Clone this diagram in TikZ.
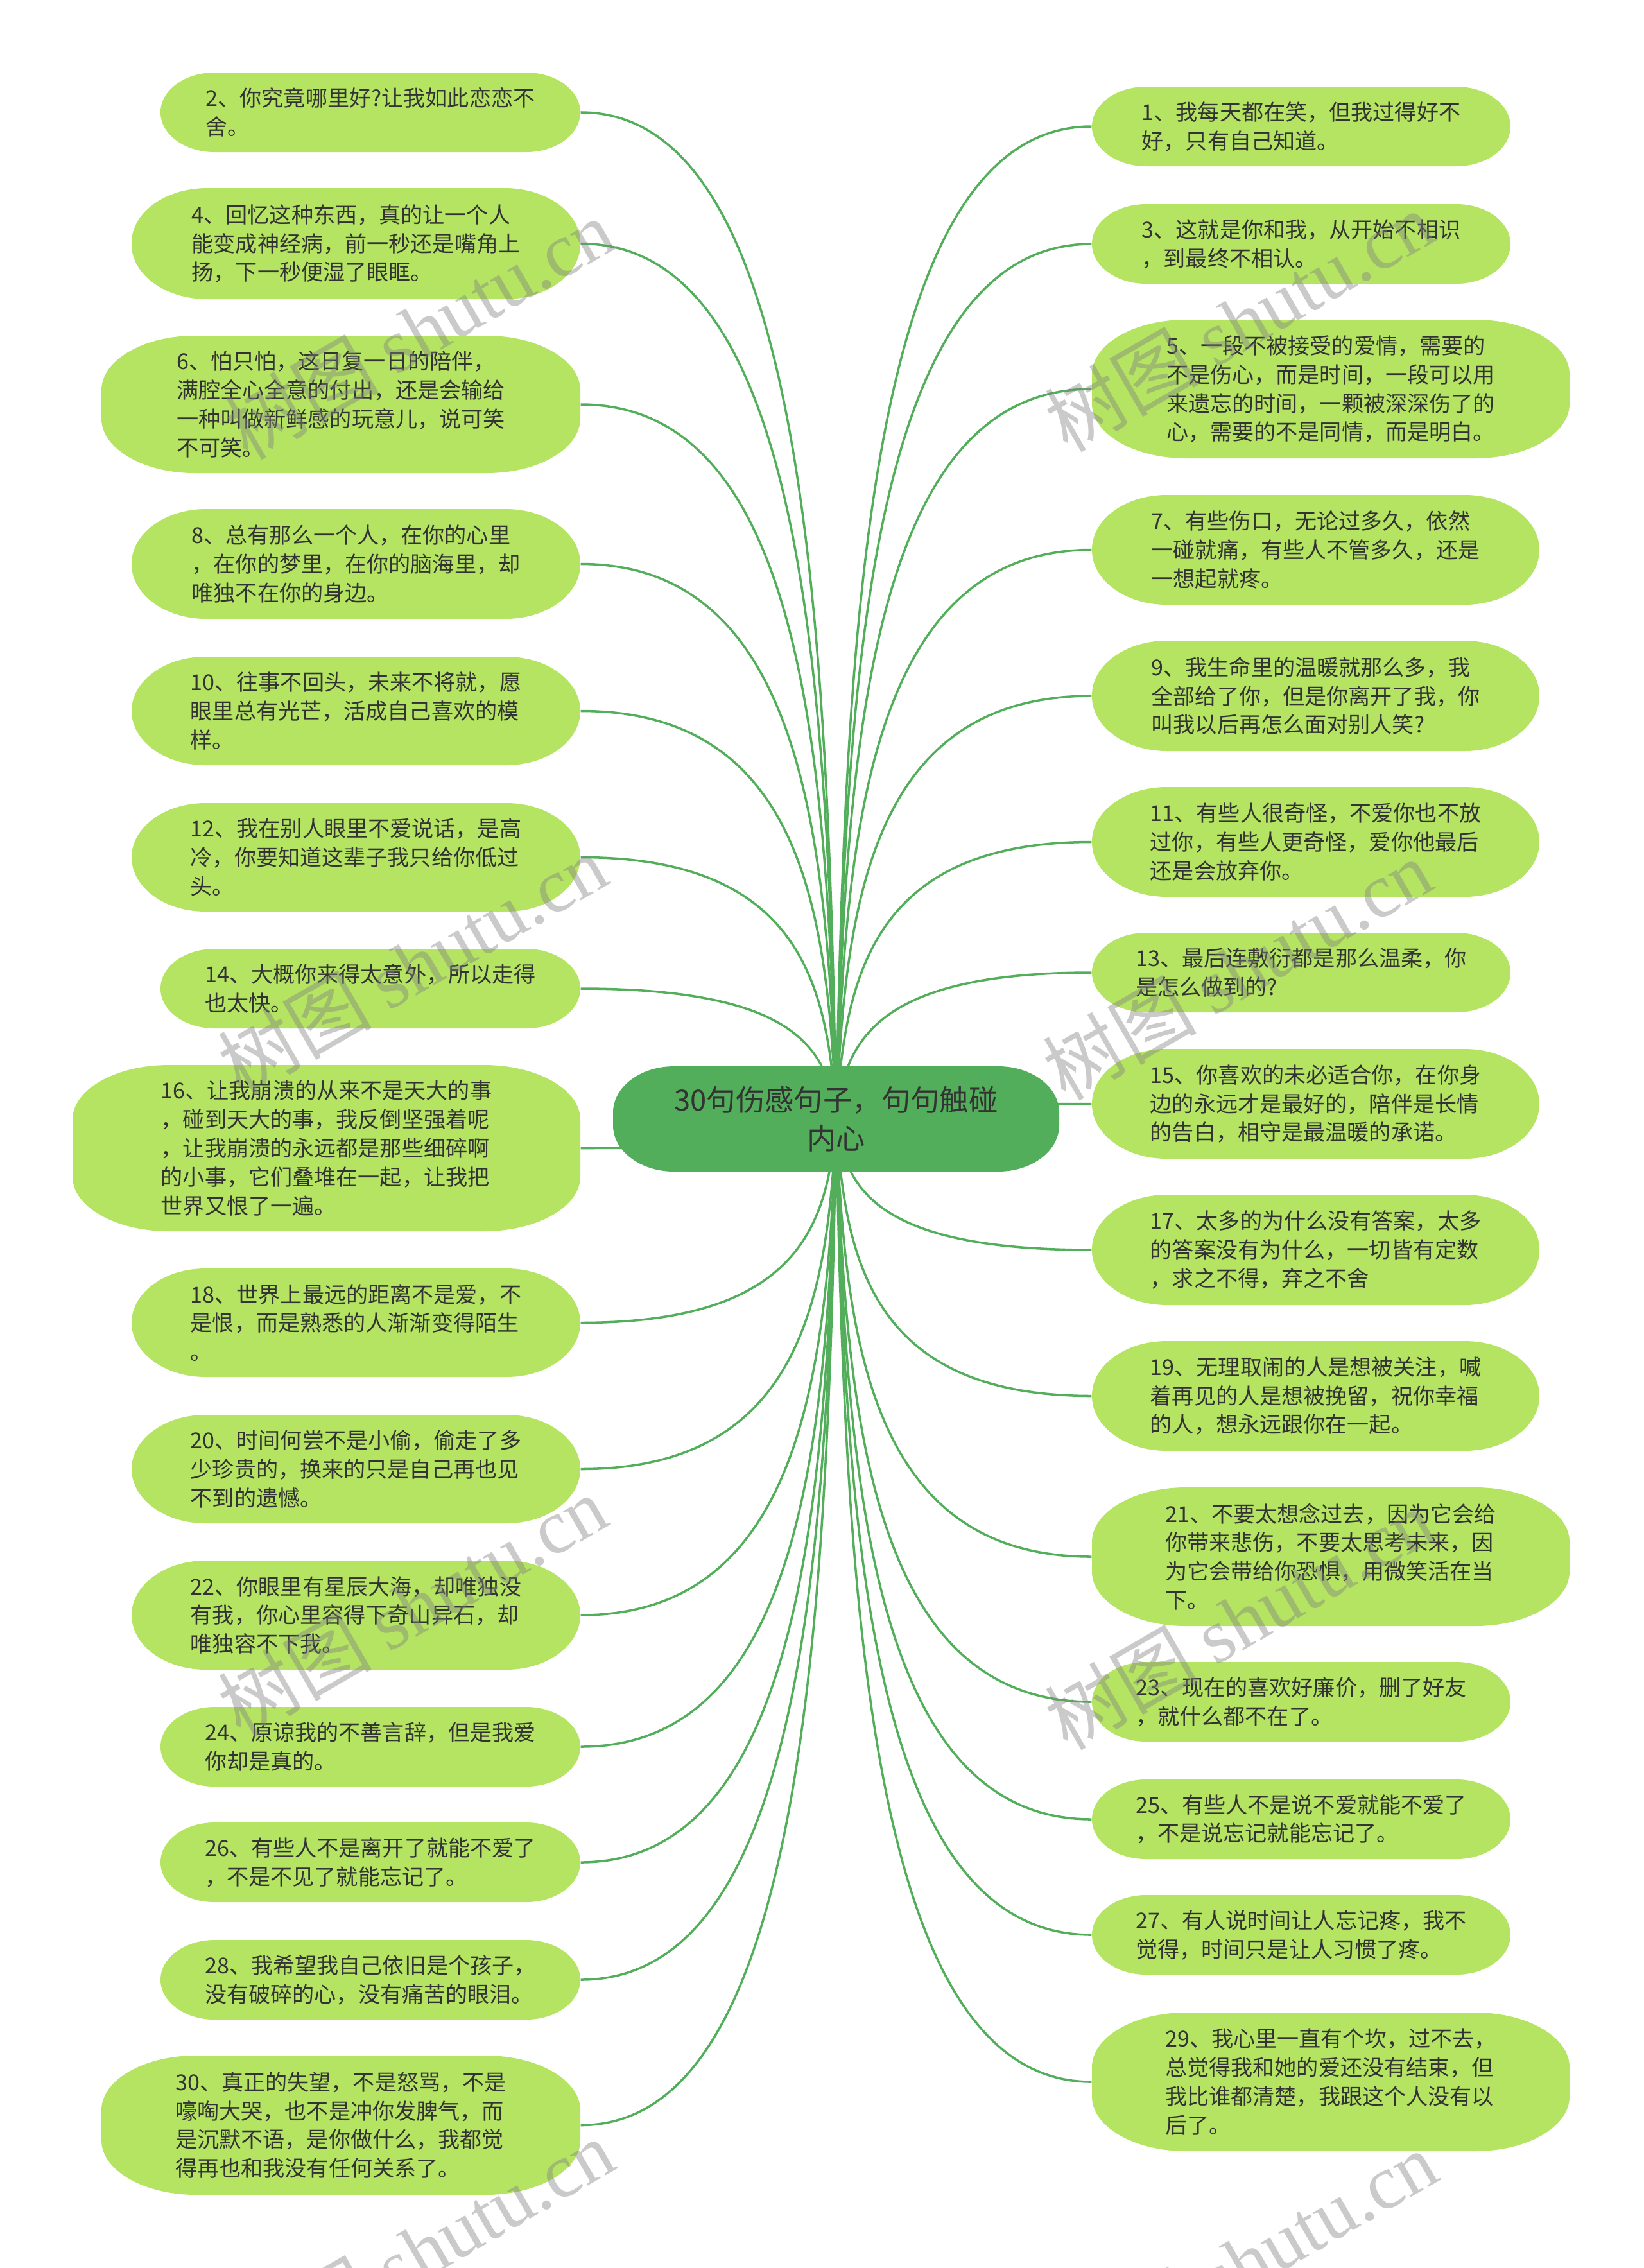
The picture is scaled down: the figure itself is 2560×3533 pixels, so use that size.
\documentclass[tikz,border=0pt]{standalone}
\usepackage{fontspec}
\setmainfont{Noto Sans CJK SC}
\newfontfamily\wmlatin{Liberation Serif}
\newfontfamily\wmcjk{Noto Sans CJK SC}
\usetikzlibrary{backgrounds}
\definecolor{leaffill}{HTML}{B5E462}
\definecolor{rootfill}{HTML}{53AE5B}
\definecolor{linecol}{HTML}{52AE5A}
\definecolor{txt}{HTML}{333333}
\tikzset{
  leaftext/.style={inner sep=0pt, align=left, text=txt, font=\fontsize{9.7pt}{12.75pt}\selectfont},
  roottext/.style={inner sep=0pt, align=center, text=txt, font=\fontsize{12.9pt}{17pt}\selectfont},
  conn/.style={draw=linecol, line width=1pt},
  wm/.style={text=gray, opacity=0.42, font=\fontsize{34pt}{38pt}\selectfont, rotate=30, inner sep=0pt},
}
% rounded box with elliptical corners: L R T B rx ry colour
\newcommand\rbox[7]{%
  \pgfmathsetmacro\ax{0.4477*#5}\pgfmathsetmacro\ay{0.4477*#6}%
  \fill[#7] ({#1+#5},#3) -- ({#2-#5},#3) .. controls ({#2-\ax},#3) and (#2,{#3+\ay}) .. (#2,{#3+#6})
    -- (#2,{#4-#6}) .. controls (#2,{#4-\ay}) and ({#2-\ax},#4) .. ({#2-#5},#4)
    -- ({#1+#5},#4) .. controls ({#1+\ax},#4) and (#1,{#4-\ay}) .. (#1,{#4-#6})
    -- (#1,{#3+#6}) .. controls (#1,{#3+\ay}) and ({#1+\ax},#3) .. ({#1+#5},#3) -- cycle;
}
\newcommand\leafbox[6]{%
  \pgfmathsetmacro\lh{#5-#4}\pgfmathsetmacro\lw{#3-#2}%
  \pgfmathsetmacro\rx{min(0.68*\lh,150)}\pgfmathsetmacro\ry{min(\lh/2,85)}%
  \rbox{#2}{#3}{#4}{#5}{\rx}{\ry}{leaffill}%
  \node[leaftext, minimum width=\lw*0.01cm, minimum height=\lh*0.01cm] (#1) at ({(#2+#3)/2},{(#4+#5)/2}) {#6};
  \pgfmathsetmacro\ey{(#4+#5)/2}\pgfmathsetmacro\my{(1743+\ey)/2}%
}
% left leaf: name L T B text  (R = 904)
\newcommand\leafL[5]{%
  \leafbox{#1}{#2}{904}{#3}{#4}{#5}%
  \begin{pgfonlayer}{background}
    \draw[conn] (c.center) .. controls (1290,\my) and (1251,\ey) .. (#1.east);
  \end{pgfonlayer}
}
% right leaf: name R T B text  (L = 1701)
\newcommand\leafR[5]{%
  \leafbox{#1}{1701}{#2}{#3}{#4}{#5}%
  \begin{pgfonlayer}{background}
    \draw[conn] (c.center) .. controls (1316,\my) and (1354.5,\ey) .. (#1.west);
  \end{pgfonlayer}
}
\begin{document}
\begin{tikzpicture}[x=0.01cm, y=-0.01cm]
\useasboundingbox (0,0) rectangle (2560,3533);
% root
\rbox{955}{1650}{1661}{1825}{95}{72}{rootfill}
\node[roottext, minimum width=6.95cm, minimum height=1.64cm] (c) at (1302.5,1743) {30句伤感句子，句句触碰\\内心};
% left side
\leafL{n2}{250}{113}{237}{2、你究竟哪里好?让我如此恋恋不\\舍。}
\leafL{n4}{205}{293}{466}{4、回忆这种东西，真的让一个人\\能变成神经病，前一秒还是嘴角上\\扬，下一秒便湿了眼眶。}
\leafL{n6}{158}{523}{737}{6、怕只怕，这日复一日的陪伴，\\满腔全心全意的付出，还是会输给\\一种叫做新鲜感的玩意儿，说可笑\\不可笑。}
\leafL{n8}{205}{793}{964}{8、总有那么一个人，在你的心里\\，在你的梦里，在你的脑海里，却\\唯独不在你的身边。}
\leafL{n10}{205}{1023}{1192}{10、往事不回头，未来不将就，愿\\眼里总有光芒，活成自己喜欢的模\\样。}
\leafL{n12}{205}{1251}{1420}{12、我在别人眼里不爱说话，是高\\冷，你要知道这辈子我只给你低过\\头。}
\leafL{n14}{250}{1478}{1602}{14、大概你来得太意外，所以走得\\也太快。}
\leafL{n16}{113}{1659}{1918}{16、让我崩溃的从来不是天大的事\\，碰到天大的事，我反倒坚强着呢\\，让我崩溃的永远都是那些细碎啊\\的小事，它们叠堆在一起，让我把\\世界又恨了一遍。}
\leafL{n18}{205}{1976}{2145}{18、世界上最远的距离不是爱，不\\是恨，而是熟悉的人渐渐变得陌生\\。}
\leafL{n20}{205}{2204}{2373}{20、时间何尝不是小偷，偷走了多\\少珍贵的，换来的只是自己再也见\\不到的遗憾。}
\leafL{n22}{205}{2431}{2601}{22、你眼里有星辰大海，却唯独没\\有我，你心里容得下奇山异石，却\\唯独容不下我。}
\leafL{n24}{250}{2659}{2783}{24、原谅我的不善言辞，但是我爱\\你却是真的。}
\leafL{n26}{250}{2839}{2963}{26、有些人不是离开了就能不爱了\\，不是不见了就能忘记了。}
\leafL{n28}{250}{3022}{3146}{28、我希望我自己依旧是个孩子，\\没有破碎的心，没有痛苦的眼泪。}
\leafL{n30}{158}{3202}{3419}{30、真正的失望，不是怒骂，不是\\嚎啕大哭，也不是冲你发脾气，而\\是沉默不语，是你做什么，我都觉\\得再也和我没有任何关系了。}
% right side
\leafR{n1}{2353}{135}{259}{1、我每天都在笑，但我过得好不\\好，只有自己知道。}
\leafR{n3}{2353}{318}{442}{3、这就是你和我，从开始不相识\\，到最终不相认。}
\leafR{n5}{2445}{498}{714}{5、一段不被接受的爱情，需要的\\不是伤心，而是时间，一段可以用\\来遗忘的时间，一颗被深深伤了的\\心，需要的不是同情，而是明白。}
\leafR{n7}{2398}{771}{942}{7、有些伤口，无论过多久，依然\\一碰就痛，有些人不管多久，还是\\一想起就疼。}
\leafR{n9}{2398}{998}{1170}{9、我生命里的温暖就那么多，我\\全部给了你，但是你离开了我，你\\叫我以后再怎么面对别人笑?}
\leafR{n11}{2398}{1226}{1397}{11、有些人很奇怪，不爱你也不放\\过你，有些人更奇怪，爱你他最后\\还是会放弃你。}
\leafR{n13}{2353}{1453}{1577}{13、最后连敷衍都是那么温柔，你\\是怎么做到的?}
\leafR{n15}{2398}{1634}{1805}{15、你喜欢的未必适合你，在你身\\边的永远才是最好的，陪伴是长情\\的告白，相守是最温暖的承诺。}
\leafR{n17}{2398}{1861}{2033}{17、太多的为什么没有答案，太多\\的答案没有为什么，一切皆有定数\\，求之不得，弃之不舍}
\leafR{n19}{2398}{2089}{2260}{19、无理取闹的人是想被关注，喊\\着再见的人是想被挽留，祝你幸福\\的人，想永远跟你在一起。}
\leafR{n21}{2445}{2317}{2533}{21、不要太想念过去，因为它会给\\你带来悲伤，不要太思考未来，因\\为它会带给你恐惧，用微笑活在当\\下。}
\leafR{n23}{2353}{2589}{2713}{23、现在的喜欢好廉价，删了好友\\，就什么都不在了。}
\leafR{n25}{2353}{2772}{2896}{25、有些人不是说不爱就能不爱了\\，不是说忘记就能忘记了。}
\leafR{n27}{2353}{2952}{3076}{27、有人说时间让人忘记疼，我不\\觉得，时间只是让人习惯了疼。}
\leafR{n29}{2445}{3135}{3351}{29、我心里一直有个坎，过不去，\\总觉得我和她的爱还没有结束，但\\我比谁都清楚，我跟这个人没有以\\后了。}
% watermarks
\node[wm] (w1) at (653,512) {{\wmcjk 树图} {\wmlatin shutu.cn}};
\node[wm] (w2) at (1930,500) {{\wmcjk 树图} {\wmlatin shutu.cn}};
\node[wm] (w3) at (642,1502) {{\wmcjk 树图} {\wmlatin shutu.cn}};
\node[wm] (w4) at (1927,1510) {{\wmcjk 树图} {\wmlatin shutu.cn}};
\node[wm] (w5) at (642,2501) {{\wmcjk 树图} {\wmlatin shutu.cn}};
\node[wm] (w6) at (1930,2522) {{\wmcjk 树图} {\wmlatin shutu.cn}};
\node[wm] (w7) at (653,3504) {{\wmcjk 树图} {\wmlatin shutu.cn}};
\node[wm] (w8) at (1935,3522) {{\wmcjk 树图} {\wmlatin shutu.cn}};
\end{tikzpicture}
\end{document}
